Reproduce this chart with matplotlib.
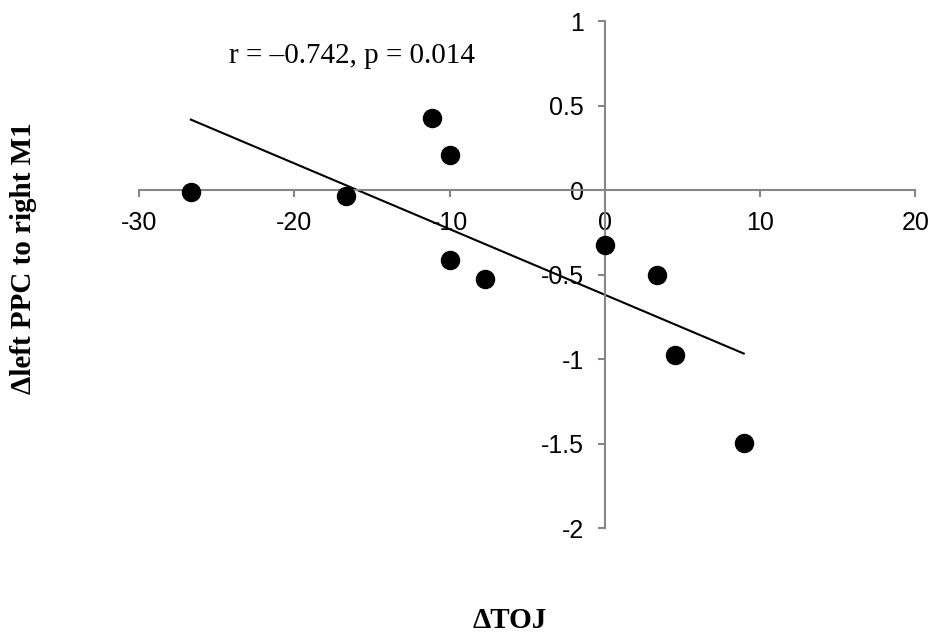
import numpy as np
import matplotlib
matplotlib.use("Agg")
import matplotlib.pyplot as plt
from matplotlib.ticker import FuncFormatter

plt.rcParams['axes.unicode_minus'] = False

# change in TOJ vs change in left PPC -> right M1 connectivity
toj_change = [-26.66, -16.66, -11.1, -9.98, -9.98, -7.74, 0.02, 3.35, 4.5, 8.95]
ppc_m1_change = [-0.014, -0.034, 0.424, 0.209, -0.414, -0.525, -0.325, -0.505, -0.974, -1.499]
stats_label = "r = \u20130.742, p = 0.014"

x_ticks = [-30, -20, -10, 0, 10, 20]
y_ticks = [1, 0.5, 0, -0.5, -1, -1.5, -2]

axis_grey = "#868686"

fig = plt.figure(figsize=(9.33, 6.37), dpi=100)
ax = fig.add_axes([0.149, 0.171, 0.832, 0.796])

x = np.array(toj_change)
y = np.array(ppc_m1_change)
ax.plot(x, y, 'o', color='black', markersize=13, zorder=3)

# least squares trend line over the data range
slope, intercept = np.polyfit(x, y, 1)
xl = np.array([x.min(), x.max()])
ax.plot(xl, slope * xl + intercept, color='black', lw=1.5, zorder=2)

ax.set_xlim(-30, 20)
ax.set_ylim(-2, 1)
ax.set_xticks(x_ticks)
ax.set_yticks(y_ticks)
ax.yaxis.set_major_formatter(FuncFormatter(lambda v, p: f"{v:g}"))
ax.xaxis.set_major_formatter(FuncFormatter(lambda v, p: f"{v:g}"))

# axes cross at the origin
for side in ['top', 'right']:
    ax.spines[side].set_visible(False)
for side in ['left', 'bottom']:
    ax.spines[side].set_position(('data', 0))
    ax.spines[side].set_color(axis_grey)
    ax.spines[side].set_linewidth(1.5)

ax.tick_params(direction='out', length=5, width=1.5, color=axis_grey,
               labelsize=18, pad=10)
for lbl in ax.get_xticklabels() + ax.get_yticklabels():
    lbl.set_fontfamily('Liberation Sans')

ax.text(-24.2, 0.751, stats_label, fontsize=21, family='Liberation Serif',
        va='baseline', ha='left')

fig.text(24 / 933, 1 - 258.5 / 637, "\u0394left PPC to right M1", rotation=90,
         fontsize=21, fontweight='bold', family='Liberation Serif',
         ha='center', va='center')
fig.text(510 / 933, 1 - 620 / 637, "\u0394TOJ", fontsize=21, fontweight='bold',
         family='Liberation Serif', ha='center', va='center')

fig.savefig("out.png", dpi=100)
